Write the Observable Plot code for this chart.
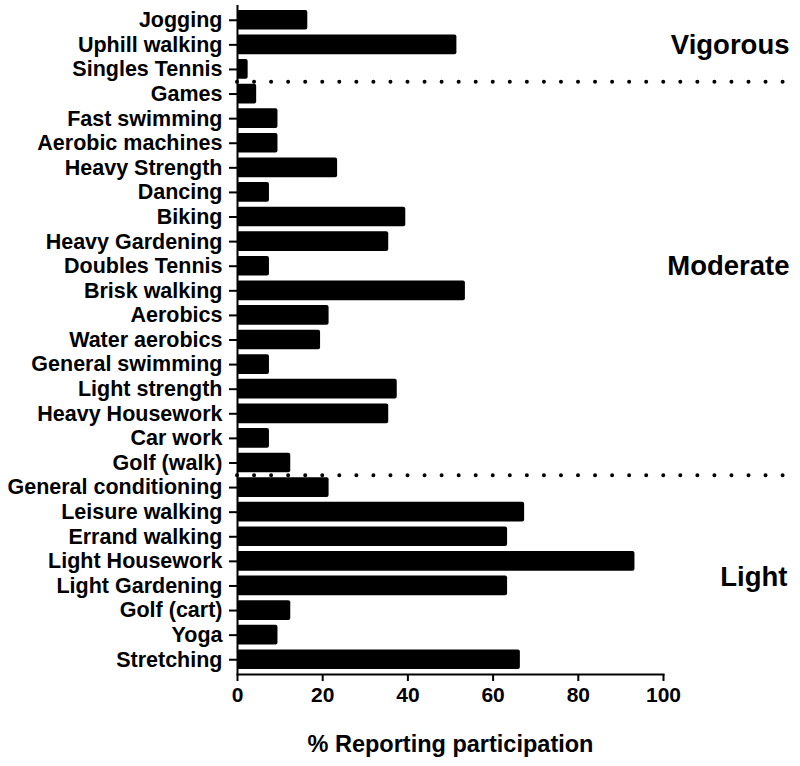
<!DOCTYPE html>
<html><head><meta charset="utf-8">
<script src="https://cdn.jsdelivr.net/npm/d3@7"></script>
<script src="https://cdn.jsdelivr.net/npm/@observablehq/plot@0.6"></script>
<style>
html,body{margin:0;padding:0;background:#fff;}
#chart svg text{font-weight:bold;}
</style></head><body><div id="chart"></div>
<script>
const activities = [
  "Jogging","Uphill walking","Singles Tennis","Games","Fast swimming","Aerobic machines",
  "Heavy Strength","Dancing","Biking","Heavy Gardening","Doubles Tennis","Brisk walking",
  "Aerobics","Water aerobics","General swimming","Light strength","Heavy Housework","Car work",
  "Golf (walk)","General conditioning","Leisure walking","Errand walking","Light Housework",
  "Light Gardening","Golf (cart)","Yoga","Stretching"
];
const participation = [
  16.5, 51.5, 2.5, 4.5, 9.5, 9.5,
  23.5, 7.5, 39.5, 35.5, 7.5, 53.5,
  21.5, 19.5, 7.5, 37.5, 35.5, 7.5,
  12.5, 21.5, 67.4, 63.4, 93.3,
  63.4, 12.5, 9.5, 66.4
];
const upperLabels = ["Vigorous", "Moderate"];
const upperAnchors = ["Uphill walking", "Doubles Tennis"];
const lightLabel = ["Light"];
const lightAnchor = ["Light Housework"];
const separators = ["Games", "General conditioning"];
const xTicks = [0, 20, 40, 60, 80, 100];
const xLabel = "% Reporting participation";

const data = activities.map((a, i) => ({activity: a, value: participation[i]}));
const upper = upperLabels.map((t, i) => ({text: t, activity: upperAnchors[i]}));
const light = lightLabel.map((t, i) => ({text: t, activity: lightAnchor[i]}));

function build(step) {
  return Plot.plot({
    width: 800,
    height: 766,
    marginLeft: 237,
    marginRight: 137,
    marginTop: 5,
    marginBottom: 92,
    style: {fontFamily: "'Liberation Sans', Arial, sans-serif", background: "white", color: "black"},
    x: {domain: [0, 100], round: false},
    y: {domain: activities, padding: 0.2, round: false},
    marks: [
      Plot.barX(data, {x: "value", y: "activity", fill: "black", rx: 2}),
      Plot.ruleY(separators, {dy: -step / 2, insetRight: -122, stroke: "black", strokeWidth: 4,
        strokeDasharray: "0,17.05", strokeLinecap: "round"}),
      Plot.ruleX([0], {stroke: "black", strokeWidth: 2}),
      Plot.frame({anchor: "bottom", stroke: "black", strokeWidth: 2}),
      Plot.axisY({tickSize: 8, tickPadding: 7, fontSize: 21.5, fontWeight: "bold", strokeWidth: 2, label: null}),
      Plot.axisX({ticks: xTicks, tickSize: 7, tickPadding: 6, fontSize: 21, fontWeight: "bold", strokeWidth: 2, label: null}),
      Plot.text([xLabel], {frameAnchor: "bottom", dy: 77, fontSize: 23.5, fontWeight: "bold", fill: "black"}),
      Plot.text(upper, {y: "activity", text: "text", frameAnchor: "right", textAnchor: "end", dx: 126,
        fontSize: 27.5, fontWeight: "bold", fill: "black"}),
      Plot.text(light, {y: "activity", text: "text", frameAnchor: "right", textAnchor: "end", dx: 124,
        dy: step * 0.65, fontSize: 27.5, fontWeight: "bold", fill: "black"})
    ]
  });
}
const step = build(0).scale("y").step;
document.getElementById("chart").appendChild(build(step));
</script></body></html>
